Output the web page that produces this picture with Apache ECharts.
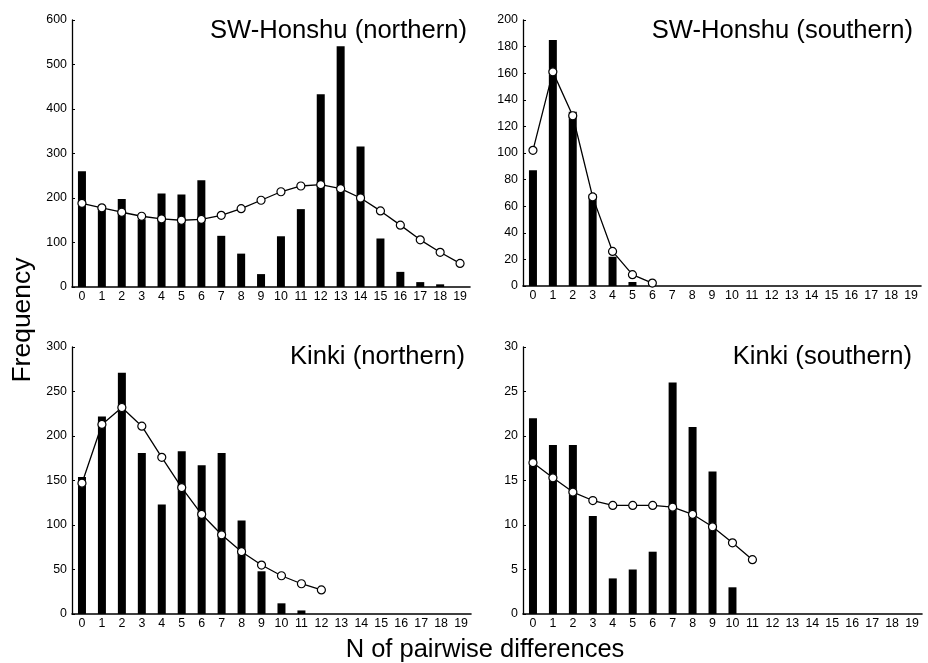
<!DOCTYPE html>
<html>
<head>
<meta charset="utf-8">
<script src="https://cdn.jsdelivr.net/npm/echarts@6/dist/echarts.min.js"></script>
<style>
  html, body { margin: 0; padding: 0; background: #ffffff; }
  #chart { width: 928px; height: 663px; }
</style>
</head>
<body>
<div id="chart"></div>
<script>
// Categories: number of pairwise differences
var categories = ['0','1','2','3','4','5','6','7','8','9','10','11','12','13','14','15','16','17','18','19'];

// Panel titles
var panelTitles = ['SW-Honshu (northern)', 'SW-Honshu (southern)', 'Kinki (northern)', 'Kinki (southern)'];

// Observed frequencies (bars)
var swNorthObserved = [260, 180, 198, 152, 210, 208, 240, 115, 75, 29, 114, 175, 433, 541, 316, 109, 34, 11, 6, 0];
var swSouthObserved = [87, 185, 131, 69, 22, 3];
var kinkiNorthObserved = [154, 222, 271, 181, 123, 183, 167, 181, 105, 48, 12, 4];
var kinkiSouthObserved = [22, 19, 19, 11, 4, 5, 7, 26, 21, 16, 3];

// Expected frequencies (line with open circles)
var swNorthExpected = [188, 178, 168, 159, 153, 150, 152, 161, 176, 195, 214, 227, 230, 221, 200, 171, 139, 106, 78, 53];
var swSouthExpected = [102, 161, 128, 67, 26, 8.5, 2.2];
var kinkiNorthExpected = [147, 213, 232, 211, 176, 142, 112, 89, 70, 55, 43, 34, 27];
var kinkiSouthExpected = [17.0, 15.3, 13.7, 12.75, 12.2, 12.2, 12.2, 12.0, 11.2, 9.8, 8.0, 6.1];

// Y axis scales per panel
var yMax = [600, 200, 300, 30];
var yInterval = [100, 20, 50, 5];

var xLabel = 'N of pairwise differences';
var yLabel = 'Frequency';

var FONT = '"Liberation Sans", Arial, Helvetica, sans-serif';

var observed = [swNorthObserved, swSouthObserved, kinkiNorthObserved, kinkiSouthObserved];
var expected = [swNorthExpected, swSouthExpected, kinkiNorthExpected, kinkiSouthExpected];

var grids = [
  { left: 72, top: 20, width: 398, height: 267 },
  { left: 523, top: 20, width: 398, height: 266 },
  { left: 72, top: 347, width: 399, height: 267 },
  { left: 523, top: 347, width: 399, height: 267 }
];

var titlePos = [
  { x: 467, y: 30.5 },
  { x: 913, y: 30.5 },
  { x: 465, y: 356.5 },
  { x: 912, y: 356.5 }
];

var xAxes = [], yAxes = [], series = [], graphics = [];
for (var i = 0; i < 4; i++) {
  xAxes.push({
    type: 'category',
    gridIndex: i,
    data: categories,
    boundaryGap: true,
    axisLine: { lineStyle: { color: '#000', width: 1.6 } },
    axisTick: { inside: true, length: 3, interval: 0, lineStyle: { color: '#000', width: 1 } },
    axisLabel: { interval: 0, color: '#000', fontSize: 12.4, fontFamily: FONT, margin: 4 },
    splitLine: { show: false }
  });
  yAxes.push({
    type: 'value',
    gridIndex: i,
    min: 0,
    max: yMax[i],
    interval: yInterval[i],
    axisLine: { show: true, lineStyle: { color: '#000', width: 1.3 } },
    axisTick: { show: true, inside: true, length: 3, lineStyle: { color: '#000', width: 1 } },
    axisLabel: { color: '#000', fontSize: 12.4, fontFamily: FONT, margin: 5 },
    splitLine: { show: false }
  });
  series.push({
    type: 'bar',
    xAxisIndex: i,
    yAxisIndex: i,
    data: observed[i],
    barWidth: 8,
    itemStyle: { color: '#000' },
    silent: true,
    animation: false
  });
  series.push({
    type: 'line',
    xAxisIndex: i,
    yAxisIndex: i,
    data: expected[i],
    symbol: 'circle',
    symbolSize: 8,
    showSymbol: true,
    lineStyle: { color: '#000', width: 1.3 },
    itemStyle: { color: '#fff', borderColor: '#000', borderWidth: 1.2 },
    z: 5,
    silent: true,
    animation: false
  });
  graphics.push({
    type: 'text',
    x: titlePos[i].x,
    y: titlePos[i].y,
    style: {
      text: panelTitles[i],
      font: '25.6px ' + FONT,
      fill: '#000',
      align: 'right',
      verticalAlign: 'middle'
    }
  });
}

graphics.push({
  type: 'text',
  x: 22.5,
  y: 320,
  rotation: Math.PI / 2,
  style: {
    text: yLabel,
    font: '26.5px ' + FONT,
    fill: '#000',
    align: 'center',
    verticalAlign: 'middle'
  }
});
graphics.push({
  type: 'text',
  x: 485,
  y: 649.5,
  style: {
    text: xLabel,
    font: '25.5px ' + FONT,
    fill: '#000',
    align: 'center',
    verticalAlign: 'middle'
  }
});

var chart = echarts.init(document.getElementById('chart'), null, { renderer: 'canvas' });
chart.setOption({
  backgroundColor: '#ffffff',
  animation: false,
  grid: grids,
  xAxis: xAxes,
  yAxis: yAxes,
  series: series,
  graphic: graphics
});
</script>
</body>
</html>
